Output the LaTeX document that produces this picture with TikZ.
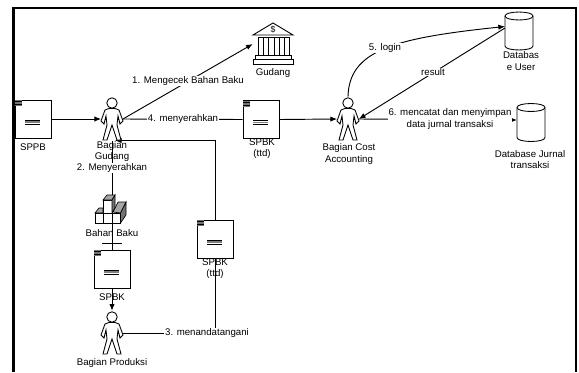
\documentclass[tikz,border=0pt]{standalone}
\usepackage{fontspec}
\setmainfont{Liberation Sans}
\usetikzlibrary{arrows.meta}
\tikzset{
  every node/.style={inner sep=0pt, font=\fontsize{7.25}{8.4}\selectfont, align=center},
  conn/.style={draw=black, line width=0.7pt},
  arrowconn/.style={conn, -{Latex[length=5pt,width=4pt]}},
  onlabel/.style={fill=white, inner sep=0.6pt},
  docbox/.style={draw=black, line width=0.75pt, minimum width=27pt, minimum height=28.5pt},
  actorbox/.style={minimum width=16pt, minimum height=33pt},
  dbbox/.style={minimum width=21pt, minimum height=28.5pt},
  pics/docmarks/.style={code={
    \fill [black!55] (-18,-19) rectangle (-11,-13);
    \draw [black, line width=0.4pt] (-18,-17.5) -- (-11,-17.5);
    \draw [black, line width=0.4pt] (-18,-14.5) -- (-11,-14.5);
    \draw [black, line width=0.5pt] (-8,1) -- (7,1);
    \draw [black!50, line width=0.8pt] (-8,3) -- (7,3);
    \draw [black, line width=0.5pt] (-8,5) -- (7,5);
  }},
  pics/actorfig/.style={code={
    \draw [black, fill=white, line width=0.65pt] (0,-16) circle [radius=3.9pt];
    \draw [black, fill=white, line width=0.65pt] (-3,-10.5) -- (-7,-9) -- (-11,2) -- (-8,5) -- (-6,-3)
      -- (-5,6) -- (-9,21) -- (-5,21) -- (0,6) -- (5,21) -- (9,21) -- (5,6) -- (6,-3)
      -- (8,5) -- (11,2) -- (7,-9) -- (3,-10.5) -- cycle;
  }},
  pics/dbfig/.style={code={
    \draw [black, fill=white, line width=0.65pt] (-14,-15) -- (-14,15)
      .. controls (-14,20.3) and (14,20.3) .. (14,15) -- (14,-15)
      .. controls (14,-20.3) and (-14,-20.3) .. (-14,-15) -- cycle;
    \draw [black, line width=0.65pt] (-14,-15) .. controls (-14,-9.7) and (14,-9.7) .. (14,-15);
  }}
}
\begin{document}
\begin{tikzpicture}[x=0.75pt,y=-0.75pt]
        \useasboundingbox (0,0) rectangle (579,372);
        \draw [black, line width=1.6pt] (13.5,372) -- (13.5,8) -- (576,8) -- (576,372);

        \node [docbox] (sppb) at (33,119) {};
        \node [docbox] (spbkttd) at (261,119.5) {};
        \node [docbox] (spbkttdb) at (215,239) {};
        \node [docbox] (spbk) at (112,269) {};
        \foreach \n in {sppb,spbkttd,spbkttdb,spbk}
          \pic at (\n) {docmarks};

        \node [actorbox] (gudang) at (112,119) {};
        \node [actorbox] (cost) at (348,119) {};
        \node [actorbox] (produksi) at (112,333) {};
        \node [dbbox] (dbuser) at (519,31) {};
        \node [dbbox] (dbjurnal) at (531,122.5) {};
        \node [minimum width=30pt, minimum height=31.5pt] (bank) at (273,44) {};
        \node [minimum width=26pt, minimum height=21pt] (bahan) at (112,209) {};

        \coordinate (gudangin) at (115,140.5);
        \coordinate (dbuserin) at (505,26.5);
        \coordinate (dbuserout) at (505,28);
        \coordinate (dbjurnalin) at (517,120);

        \draw [arrowconn] (sppb) -- (gudang.west);
        \draw [arrowconn] (gudang.east) -- (bank.west);
        \draw [conn] (gudang.east) -- (spbkttd.west);
        \draw [arrowconn] (spbkttd.east) -- (cost.west);
        \draw [conn] (gudang.south) -- (bahan.north);
        \draw [conn] (bahan.south) -- (spbk.north);
        \draw [conn] (102,243) -- (122,243);
        \draw [arrowconn] (spbk.south) -- (produksi.north);
        \draw [arrowconn] (spbkttdb.north) |- (gudangin);
        \draw [conn] (produksi.east) -| (spbkttdb.south);
        \draw [arrowconn] (cost.north) .. controls (349,50) and (395,38) .. (dbuserin);
        \draw [arrowconn] (dbuserout) -- (cost.east);
        \draw [arrowconn] (cost.east) -- (dbjurnalin);

        \foreach \n in {gudang,cost,produksi}
          \pic at (\n) {actorfig};
        \foreach \n in {dbuser,dbjurnal}
          \pic at (\n) {dbfig};

        \draw [black, fill=white, line width=0.65pt] (253,35) -- (273,23) -- (293,35) -- cycle;
        \node (banksign) at (273,29.5) {\fontsize{6.5}{7}\selectfont\$};
        \draw [black, line width=0.65pt] (258,37) rectangle (289,55);
        \foreach \x in {263,268.5,274,279.5,284.5}
          \draw [black, line width=0.6pt] (\x,37) -- (\x,55);
        \draw [black, line width=0.65pt] (255,55) rectangle (291,59);
        \draw [black, line width=0.65pt] (253,59) rectangle (293,64);

        \foreach \x in {95,103.5,112}
          \draw [black, line width=0.5pt, fill=white] (\x,213) rectangle ++(8.5,10);
        \draw [black, line width=0.5pt, fill=white] (103,200) rectangle (112,213);
        \draw [black, line width=0.5pt, fill=black!35] (95,213) -- (99,208) -- (103,208) -- (103,213) -- cycle;
        \draw [black, line width=0.5pt, fill=black!35] (103,200) -- (107,195) -- (115,195) -- (112,200) -- cycle;
        \draw [black, line width=0.5pt, fill=black!55] (112,200) -- (115,195) -- (115,208) -- (112,213) -- cycle;
        \draw [black, line width=0.5pt, fill=black!35] (113,212) -- (118,202) -- (126,202) -- (120.5,213) -- cycle;
        \draw [black, line width=0.5pt, fill=black!55] (120.5,213) -- (126,202) -- (126,215) -- (120.5,223) -- cycle;

        \node (sppblabel) at (33,147) {SPPB};
        \node (gudanglabel) at (112,151.5) {Bagian\\Gudang};
        \node (banklabel) at (273,73) {Gudang};
        \node (spbkttdlabel) at (262,148.5) {SPBK\\(ttd)};
        \node (costlabel) at (349,154) {Bagian Cost\\Accounting};
        \node (dbuserlabel) at (521,61) {Databas\\e User};
        \node (dbjurnallabel) at (530,159.5) {Database Jurnal\\transaksi};
        \node (bahanlabel) at (112,233) {Bahan Baku};
        \node (spbklabel) at (112,297) {SPBK};
        \node (spbkttdblabel) at (215,269) {SPBK\\(ttd)};
        \node (produksilabel) at (112,363) {Bagian Produksi};

        \node [onlabel] (cek) at (188,81) {1. Mengecek Bahan Baku};
        \node [onlabel] (serah) at (112,168) {2. Menyerahkan};
        \node [onlabel] (ttd) at (207,333) {3. menandatangani};
        \node [onlabel] (kirim) at (183,119) {4. menyerahkan};
        \node [onlabel] (login) at (385,48) {5. login};
        \node [onlabel] (result) at (433,72) {result};
        \node [onlabel] (catat) at (450,119) {6. mencatat dan menyimpan\\data jurnal transaksi};
\end{tikzpicture}
\end{document}
